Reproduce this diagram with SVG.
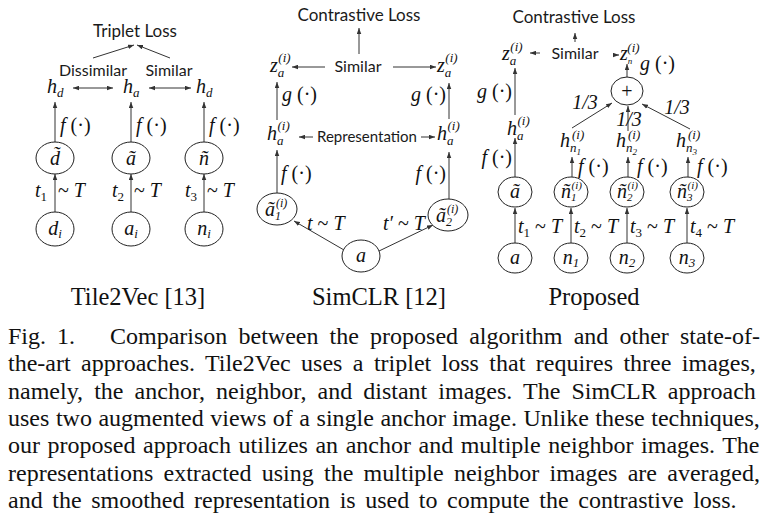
<svg xmlns="http://www.w3.org/2000/svg" width="765" height="521" viewBox="0 0 765 521">
<defs>
<marker id="ah" viewBox="0 0 8 6" refX="8" refY="3" markerWidth="6" markerHeight="5" markerUnits="userSpaceOnUse" orient="auto-start-reverse"><path d="M0,0 L8,3 L0,6 z" fill="#333"/></marker>
<style>
.sans{font-family:Lato,"Open Sans",sans-serif;fill:#1a1a1a;font-size:16px;text-anchor:middle}
.ttl{font-size:17px}
.mi{font-family:"Liberation Serif","Times New Roman",serif;font-style:italic;font-size:20px;fill:#111}
.rm{font-style:normal}
.sb{font-size:13px}
.ss{font-size:12px}
.mid{text-anchor:middle}
.end{text-anchor:end}
.cap{font-family:"Liberation Serif","Times New Roman",serif;font-size:24px;fill:#111}
.lbl{font-family:"Liberation Serif","Times New Roman",serif;font-size:24.5px;fill:#111;text-anchor:middle}
ellipse{fill:#fff;stroke:#222;stroke-width:1}
.e{stroke:#333;stroke-width:1;fill:none;marker-end:url(#ah)}
.e2{stroke:#333;stroke-width:1;fill:none;marker-end:url(#ah);marker-start:url(#ah)}
</style>
</defs>
<rect width="765" height="521" fill="#fff"/>

<g id="connectors">
  <!-- Tile2Vec -->
  <line class="e" x1="93" y1="58" x2="134" y2="45"/>
  <line class="e" x1="170" y1="58" x2="137" y2="45"/>
  <line class="e2" x1="73" y1="88" x2="113" y2="88"/>
  <line class="e2" x1="149" y1="88" x2="191" y2="88"/>
  <line class="e" x1="55" y1="142" x2="55" y2="102"/>
  <line class="e" x1="131" y1="142" x2="131" y2="102"/>
  <line class="e" x1="204" y1="142" x2="204" y2="102"/>
  <line class="e" x1="55" y1="212" x2="55" y2="174"/>
  <line class="e" x1="131" y1="212" x2="131" y2="174"/>
  <line class="e" x1="204" y1="212" x2="204" y2="174"/>
  <text class="mi" x="60" y="132">f<tspan class="rm"> (·)</tspan></text>
  <text class="mi" x="136" y="132">f<tspan class="rm"> (·)</tspan></text>
  <text class="mi" x="209" y="132">f<tspan class="rm"> (·)</tspan></text>
  <text class="mi" x="35" y="197">t<tspan class="sb rm" dy="4">1</tspan></text>
  <text class="mi" x="58" y="197"><tspan class="rm">~ </tspan>T</text>
  <text class="mi" x="112" y="197">t<tspan class="sb rm" dy="4">2</tspan></text>
  <text class="mi" x="134" y="197"><tspan class="rm">~ </tspan>T</text>
  <text class="mi" x="185" y="197">t<tspan class="sb rm" dy="4">3</tspan></text>
  <text class="mi" x="207" y="197"><tspan class="rm">~ </tspan>T</text>

  <!-- SimCLR -->
  <line class="e" x1="359" y1="54" x2="359" y2="28"/>
  <line class="e" x1="325" y1="67" x2="292" y2="67"/>
  <line class="e" x1="393" y1="67" x2="436" y2="67"/>
  <line class="e" x1="277" y1="120" x2="277" y2="82"/>
  <line class="e" x1="449" y1="119" x2="449" y2="83"/>
  <line class="e" x1="313" y1="137" x2="299" y2="137"/>
  <line class="e" x1="421" y1="137" x2="435" y2="137"/>
  <line class="e" x1="277" y1="193" x2="277" y2="150"/>
  <line class="e" x1="449" y1="199" x2="449" y2="152"/>
  <line class="e" x1="344" y1="250" x2="294" y2="221"/>
  <line class="e" x1="379" y1="251" x2="433" y2="225"/>
  <text class="mi" x="282" y="101">g<tspan class="rm"> (·)</tspan></text>
  <text class="mi end" x="446" y="101">g<tspan class="rm"> (·)</tspan></text>
  <text class="mi" x="281" y="180">f<tspan class="rm"> (·)</tspan></text>
  <text class="mi end" x="446" y="180">f<tspan class="rm"> (·)</tspan></text>
  <text class="mi" x="307" y="230">t<tspan class="rm"> ~ </tspan>T</text>
  <text class="mi" x="383" y="230">t′<tspan class="rm"> ~ </tspan>T</text>

  <!-- Proposed -->
  <line class="e" x1="575" y1="42" x2="575" y2="33"/>
  <line class="e" x1="540" y1="53" x2="530" y2="53"/>
  <line class="e" x1="613" y1="55" x2="619" y2="55"/>
  <line class="e" x1="627" y1="77" x2="627" y2="64"/>
  <line class="e" x1="572" y1="128" x2="612" y2="103"/>
  <line class="e" x1="690" y1="129" x2="642" y2="104"/>
  <line class="e" x1="628" y1="131" x2="628" y2="106"/>
  <line class="e" x1="515" y1="115" x2="515" y2="68"/>
  <line class="e" x1="515" y1="177" x2="515" y2="138"/>
  <line class="e" x1="572" y1="177" x2="572" y2="157"/>
  <line class="e" x1="628" y1="177" x2="628" y2="157"/>
  <line class="e" x1="688" y1="177" x2="688" y2="157"/>
  <line class="e" x1="515" y1="243" x2="515" y2="208"/>
  <line class="e" x1="571" y1="243" x2="571" y2="208"/>
  <line class="e" x1="627" y1="243" x2="627" y2="208"/>
  <line class="e" x1="687" y1="243" x2="687" y2="208"/>
  <text class="mi" x="640" y="70">g<tspan class="rm"> (·)</tspan></text>
  <text class="mi end" x="512" y="98">g<tspan class="rm"> (·)</tspan></text>
  <text class="mi end" x="512" y="164">f<tspan class="rm"> (·)</tspan></text>
  <text class="mi" x="578" y="173">f<tspan class="rm"> (·)</tspan></text>
  <text class="mi" x="637" y="173">f<tspan class="rm"> (·)</tspan></text>
  <text class="mi" x="697" y="173">f<tspan class="rm"> (·)</tspan></text>
  <text class="mi mid" x="585" y="109">1/3</text>
  <text class="mi mid" x="629" y="126">1/3</text>
  <text class="mi mid" x="677" y="114">1/3</text>
  <text class="mi" x="518" y="233">t<tspan class="sb rm" dy="4">1</tspan><tspan class="rm" dy="-4"> ~ </tspan>T</text>
  <text class="mi" x="574" y="233">t<tspan class="sb rm" dy="4">2</tspan><tspan class="rm" dy="-4"> ~ </tspan>T</text>
  <text class="mi" x="630" y="233">t<tspan class="sb rm" dy="4">3</tspan><tspan class="rm" dy="-4"> ~ </tspan>T</text>
  <text class="mi" x="690" y="233">t<tspan class="sb rm" dy="4">4</tspan><tspan class="rm" dy="-4"> ~ </tspan>T</text>
</g>

<!-- Tile2Vec nodes -->
<g id="t2v-loss"><text class="sans ttl" x="135" y="37">Triplet Loss</text></g>
<g id="t2v-dissimilar"><text class="sans" x="93" y="76">Dissimilar</text></g>
<g id="t2v-similar"><text class="sans" x="169" y="76">Similar</text></g>
<g id="t2v-hd"><text class="mi" x="47" y="93">h<tspan class="sb" dy="4">d</tspan></text></g>
<g id="t2v-ha"><text class="mi" x="123" y="93">h<tspan class="sb" dy="4">a</tspan></text></g>
<g id="t2v-hn"><text class="mi" x="196" y="93">h<tspan class="sb" dy="4">d</tspan></text></g>
<g id="t2v-dt"><ellipse cx="55" cy="158" rx="19" ry="16"/><text class="mi mid" x="55" y="165" font-size="22">d&#x303;</text></g>
<g id="t2v-at"><ellipse cx="131" cy="158" rx="19" ry="16"/><text class="mi mid" x="131" y="165" font-size="22">ã</text></g>
<g id="t2v-nt"><ellipse cx="204" cy="158" rx="19" ry="16"/><text class="mi mid" x="204" y="165" font-size="22">ñ</text></g>
<g id="t2v-di"><ellipse cx="55" cy="229" rx="19" ry="17"/><text class="mi mid" x="55" y="235">d<tspan class="sb" dy="3">i</tspan></text></g>
<g id="t2v-ai"><ellipse cx="131" cy="229" rx="19" ry="17"/><text class="mi mid" x="131" y="235">a<tspan class="sb" dy="3">i</tspan></text></g>
<g id="t2v-ni"><ellipse cx="204" cy="229" rx="19" ry="17"/><text class="mi mid" x="204" y="235">n<tspan class="sb" dy="3">i</tspan></text></g>
<g id="t2v-title"><text class="lbl" x="138" y="305">Tile2Vec [13]</text></g>

<!-- SimCLR nodes -->
<g id="sim-loss"><text class="sans ttl" x="359" y="21">Contrastive Loss</text></g>
<g id="sim-similar"><text class="sans" x="358" y="72">Similar</text></g>
<g id="sim-za1"><text class="mi" x="270" y="72">z<tspan class="sb" dy="5">a</tspan><tspan class="sb" dx="-6" dy="-15">(i)</tspan></text></g>
<g id="sim-za2"><text class="mi" x="437" y="72">z<tspan class="sb" dy="5">a</tspan><tspan class="sb" dx="-6" dy="-15">(i)</tspan></text></g>
<g id="sim-ha1"><text class="mi" x="267" y="140">h<tspan class="sb" dy="5">a</tspan><tspan class="sb" dx="-6" dy="-15">(i)</tspan></text></g>
<g id="sim-ha2"><text class="mi" x="437" y="140">h<tspan class="sb" dy="5">a</tspan><tspan class="sb" dx="-6" dy="-15">(i)</tspan></text></g>
<g id="sim-repr"><text class="sans" x="367" y="142" font-size="15" textLength="100" lengthAdjust="spacingAndGlyphs">Representation</text></g>
<g id="sim-a1"><ellipse cx="277" cy="209" rx="20" ry="16"/><text class="mi" x="265" y="216">ã<tspan class="ss" dy="4">1</tspan><tspan class="ss" dx="-5" dy="-13">(i)</tspan></text></g>
<g id="sim-a2"><ellipse cx="448" cy="215" rx="20" ry="16"/><text class="mi" x="436" y="222">ã<tspan class="ss" dy="4">2</tspan><tspan class="ss" dx="-5" dy="-13">(i)</tspan></text></g>
<g id="sim-a"><ellipse cx="361" cy="256" rx="19" ry="16"/><text class="mi mid" x="361" y="262">a</text></g>
<g id="sim-title"><text class="lbl" x="379" y="305">SimCLR [12]</text></g>

<!-- Proposed nodes -->
<g id="pr-loss"><text class="sans ttl" x="574" y="23">Contrastive Loss</text></g>
<g id="pr-similar"><text class="sans" x="575" y="59">Similar</text></g>
<g id="pr-za"><text class="mi" x="502" y="60">z<tspan class="sb" dy="5">a</tspan><tspan class="sb" dx="-6" dy="-14">(i)</tspan></text></g>
<g id="pr-zn"><text class="mi" x="620" y="60">z<tspan font-size="9" dy="4">n</tspan><tspan class="sb" dx="-5" dy="-12">(i)</tspan></text></g>
<g id="pr-plus"><ellipse cx="627" cy="91" rx="16" ry="14"/><text class="mi mid rm" x="627" y="98">+</text></g>
<g id="pr-ha"><text class="mi" x="507" y="135">h<tspan class="sb" dy="5">a</tspan><tspan class="sb" dx="-6" dy="-15">(i)</tspan></text></g>
<g id="pr-hn1"><text class="mi" x="560" y="147">h<tspan class="sb" dy="5">n</tspan><tspan font-size="9" dy="3">1</tspan><tspan class="sb" dx="-9" dy="-16">(i)</tspan></text></g>
<g id="pr-hn2"><text class="mi" x="616" y="147">h<tspan class="sb" dy="5">n</tspan><tspan font-size="9" dy="3">2</tspan><tspan class="sb" dx="-9" dy="-16">(i)</tspan></text></g>
<g id="pr-hn3"><text class="mi" x="676" y="147">h<tspan class="sb" dy="5">n</tspan><tspan font-size="9" dy="3">3</tspan><tspan class="sb" dx="-9" dy="-16">(i)</tspan></text></g>
<g id="pr-at"><ellipse cx="515" cy="192" rx="17" ry="15"/><text class="mi mid" x="515" y="198">ã</text></g>
<g id="pr-n1t"><ellipse cx="571" cy="192" rx="17" ry="15"/><text class="mi" x="561" y="198" font-size="19">ñ<tspan font-size="11" dy="3">1</tspan><tspan font-size="11" dx="-5" dy="-12">(i)</tspan></text></g>
<g id="pr-n2t"><ellipse cx="627" cy="192" rx="17" ry="15"/><text class="mi" x="617" y="198" font-size="19">ñ<tspan font-size="11" dy="3">2</tspan><tspan font-size="11" dx="-5" dy="-12">(i)</tspan></text></g>
<g id="pr-n3t"><ellipse cx="687" cy="192" rx="17" ry="15"/><text class="mi" x="677" y="198" font-size="19">ñ<tspan font-size="11" dy="3">3</tspan><tspan font-size="11" dx="-5" dy="-12">(i)</tspan></text></g>
<g id="pr-a"><ellipse cx="515" cy="258" rx="17" ry="15"/><text class="mi mid" x="515" y="264">a</text></g>
<g id="pr-n1"><ellipse cx="571" cy="258" rx="17" ry="15"/><text class="mi mid" x="571" y="264">n<tspan class="sb" dy="3">1</tspan></text></g>
<g id="pr-n2"><ellipse cx="627" cy="258" rx="17" ry="15"/><text class="mi mid" x="627" y="264">n<tspan class="sb" dy="3">2</tspan></text></g>
<g id="pr-n3"><ellipse cx="687" cy="258" rx="17" ry="15"/><text class="mi mid" x="687" y="264">n<tspan class="sb" dy="3">3</tspan></text></g>
<g id="pr-title"><text class="lbl" x="594" y="305">Proposed</text></g>

<!-- Caption -->
<g id="caption" class="cap">
  <text x="8" y="344" word-spacing="5">Fig. 1.</text>
  <text x="110" y="344" word-spacing="5.15">Comparison between the proposed algorithm and other state-of-</text>
  <text x="8" y="371.3" word-spacing="4.4">the-art approaches. Tile2Vec uses a triplet loss that requires three images,</text>
  <text x="8" y="398.7" word-spacing="5.1">namely, the anchor, neighbor, and distant images. The SimCLR approach</text>
  <text x="8" y="426" word-spacing="0.55">uses two augmented views of a single anchor image. Unlike these techniques,</text>
  <text x="8" y="453.3" word-spacing="1.55">our proposed approach utilizes an anchor and multiple neighbor images. The</text>
  <text x="8" y="480.7" word-spacing="4.27">representations extracted using the multiple neighbor images are averaged,</text>
  <text x="8" y="508" word-spacing="3.6">and the smoothed representation is used to compute the contrastive loss.</text>
</g>
</svg>
